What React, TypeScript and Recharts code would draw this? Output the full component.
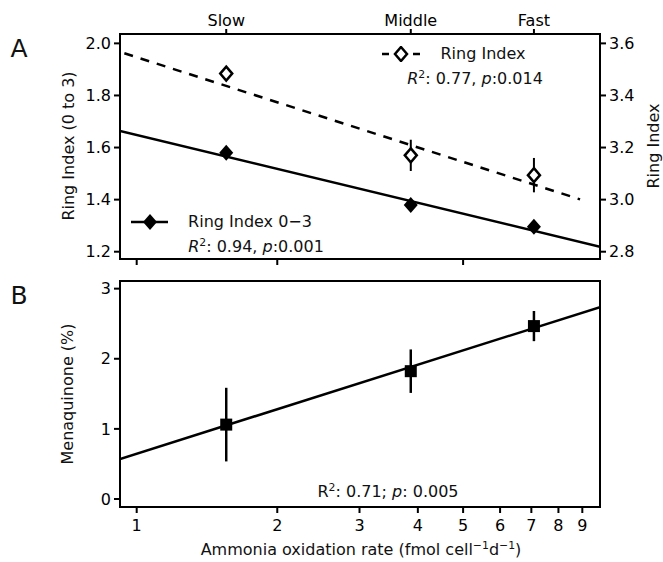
import React from 'react';
import { ComposedChart, Scatter, XAxis, YAxis, ErrorBar } from 'recharts';

const FONT = '"DejaVu Sans", "Liberation Sans", sans-serif';

// ammonia oxidation rate of the three cultures (fmol cell-1 d-1)
const rateX = [1.555, 3.863, 7.09];
const speedLabels = ['Slow', 'Middle', 'Fast'];

// panel A
const ring03 = [1.58, 1.379, 1.296];
const ringIdx = [3.484, 3.17, 3.094];
const ringIdxErr = [0.02, 0.06, 0.066];

// panel B
const mena = [1.061, 1.823, 2.466];
const menaErr = [0.525, 0.31, 0.215];

// regression lines
const fitX = [0.921, 9.82];
const fit03Y = [1.664, 1.219];
const fitRingX = [0.941, 8.9];
const fitRingY = [3.562, 3.001];
const fitMenaY = [0.571, 2.737];

const xTicksA = [1, 2, 5];
const xTicksB = [1, 2, 3, 4, 5, 6, 7, 8, 9];
const leftTicksA = [1.2, 1.4, 1.6, 1.8, 2.0];
const rightTicksA = [2.8, 3.0, 3.2, 3.4, 3.6];
const yTicksB = [0, 1, 2, 3];

const X_DOMAIN = [0.921, 9.82];

const ring03Rows = rateX.map((x, i) => ({ x, y: ring03[i] }));
const ringRows = rateX.map((x, i) => ({ x, y: ringIdx[i], err: ringIdxErr[i] }));
const menaRows = rateX.map((x, i) => ({ x, y: mena[i], err: menaErr[i] }));
const fit03Rows = fitX.map((x, i) => ({ x, y: fit03Y[i] }));
const fitRingRows = fitRingX.map((x, i) => ({ x, y: fitRingY[i] }));
const fitMenaRows = fitX.map((x, i) => ({ x, y: fitMenaY[i] }));

const tickStyle = { fill: '#000', fontSize: 16, fontFamily: FONT };
const lineStyle = { stroke: '#000', strokeWidth: 2, strokeLinecap: 'square' as const };
const tickLineStyle = { stroke: '#000', strokeWidth: 2 };

const noShape = () => <g />;

const FilledDiamond = (p: any) => (
  <path
    d={`M${p.cx},${p.cy - 8} L${p.cx + 7},${p.cy} L${p.cx},${p.cy + 8} L${p.cx - 7},${p.cy} Z`}
    fill="#000"
  />
);

const OpenDiamond = (p: any) => (
  <path
    d={`M${p.cx},${p.cy - 7} L${p.cx + 6},${p.cy} L${p.cx},${p.cy + 7} L${p.cx - 6},${p.cy} Z`}
    fill="#fff"
    stroke="#000"
    strokeWidth={2.5}
  />
);

const Square = (p: any) => <rect x={p.cx - 6} y={p.cy - 6} width={12} height={12} fill="#000" />;

const Note = ({ x, y, size = 16, rotate = false, children }: any) => (
  <div
    style={{
      position: 'absolute',
      left: x,
      top: y,
      transform: `translate(-50%, -50%)${rotate ? ' rotate(-90deg)' : ''}`,
      fontSize: size,
      lineHeight: 1,
      whiteSpace: 'nowrap',
      color: '#111',
    }}
  >
    {children}
  </div>
);

const Sup = ({ children }: any) => (
  <span style={{ fontSize: '0.68em', position: 'relative', top: '-0.55em' }}>{children}</span>
);

const PanelA = () => (
  <ComposedChart width={663} height={275} margin={{ top: 0, right: 0, bottom: 0, left: 0 }}>
    <XAxis
      xAxisId="top"
      orientation="top"
      type="number"
      scale="log"
      dataKey="x"
      domain={X_DOMAIN}
      allowDataOverflow
      ticks={rateX}
      interval={0}
      tickFormatter={(v: number) => speedLabels[rateX.indexOf(v)] ?? ''}
      height={34}
      tickSize={5}
      tickMargin={3}
      tick={tickStyle}
      axisLine={lineStyle}
      tickLine={tickLineStyle}
    />
    <XAxis
      xAxisId="bottom"
      orientation="bottom"
      type="number"
      scale="log"
      dataKey="x"
      domain={X_DOMAIN}
      allowDataOverflow
      ticks={xTicksA}
      interval={0}
      tickFormatter={() => ''}
      height={16}
      tickSize={6}
      tick={tickStyle}
      axisLine={lineStyle}
      tickLine={tickLineStyle}
    />
    <YAxis
      yAxisId="left"
      orientation="left"
      type="number"
      dataKey="y"
      domain={[1.172, 2.036]}
      allowDataOverflow
      ticks={leftTicksA}
      interval={0}
      tickFormatter={(v: number) => v.toFixed(1)}
      width={120}
      tickSize={6}
      tickMargin={3}
      tick={tickStyle}
      axisLine={lineStyle}
      tickLine={tickLineStyle}
    />
    <YAxis
      yAxisId="right"
      orientation="right"
      type="number"
      dataKey="y"
      domain={[2.772, 3.636]}
      allowDataOverflow
      ticks={rightTicksA}
      interval={0}
      tickFormatter={(v: number) => v.toFixed(1)}
      width={63}
      tickSize={6}
      tickMargin={3}
      tick={tickStyle}
      axisLine={lineStyle}
      tickLine={tickLineStyle}
    />
    <Scatter
      xAxisId="bottom"
      yAxisId="left"
      data={fit03Rows}
      line={{ stroke: '#000', strokeWidth: 2.5 }}
      shape={noShape}
      isAnimationActive={false}
    />
    <Scatter
      xAxisId="bottom"
      yAxisId="right"
      data={fitRingRows}
      line={{ stroke: '#000', strokeWidth: 2.5, strokeDasharray: '9 8' }}
      shape={noShape}
      isAnimationActive={false}
    />
    <Scatter
      xAxisId="bottom"
      yAxisId="left"
      data={ring03Rows}
      shape={FilledDiamond}
      isAnimationActive={false}
    />
    <Scatter
      xAxisId="bottom"
      yAxisId="right"
      data={ringRows}
      shape={OpenDiamond}
      isAnimationActive={false}
    >
      <ErrorBar dataKey="err" direction="y" width={0} stroke="#000" strokeWidth={2} isAnimationActive={false} />
    </Scatter>
  </ComposedChart>
);

const PanelB = () => (
  <ComposedChart width={663} height={292} margin={{ top: 0, right: 0, bottom: 0, left: 0 }}>
    <XAxis
      xAxisId="top"
      orientation="top"
      type="number"
      scale="log"
      dataKey="x"
      domain={X_DOMAIN}
      allowDataOverflow
      height={11}
      tick={false}
      tickLine={false}
      axisLine={lineStyle}
    />
    <XAxis
      xAxisId="bottom"
      orientation="bottom"
      type="number"
      scale="log"
      dataKey="x"
      domain={X_DOMAIN}
      allowDataOverflow
      ticks={xTicksB}
      interval={0}
      height={55}
      tickSize={6}
      tickMargin={7}
      tick={tickStyle}
      axisLine={lineStyle}
      tickLine={tickLineStyle}
    />
    <YAxis
      yAxisId="left"
      orientation="left"
      type="number"
      dataKey="y"
      domain={[-0.114, 3.109]}
      allowDataOverflow
      ticks={yTicksB}
      interval={0}
      width={120}
      tickSize={6}
      tickMargin={3}
      tick={tickStyle}
      axisLine={lineStyle}
      tickLine={tickLineStyle}
    />
    <YAxis
      yAxisId="right"
      orientation="right"
      type="number"
      dataKey="y"
      domain={[-0.114, 3.109]}
      allowDataOverflow
      width={63}
      tick={false}
      tickLine={false}
      axisLine={lineStyle}
    />
    <Scatter
      xAxisId="bottom"
      yAxisId="left"
      data={fitMenaRows}
      line={{ stroke: '#000', strokeWidth: 2.5 }}
      shape={noShape}
      isAnimationActive={false}
    />
    <Scatter xAxisId="bottom" yAxisId="left" data={menaRows} shape={Square} isAnimationActive={false}>
      <ErrorBar dataKey="err" direction="y" width={0} stroke="#000" strokeWidth={2.5} isAnimationActive={false} />
    </Scatter>
  </ComposedChart>
);

export default function App() {
  return (
    <div
      style={{
        position: 'absolute',
        left: 0,
        top: 0,
        width: 663,
        height: 562,
        overflow: 'hidden',
        background: '#fff',
        fontFamily: FONT,
      }}
    >
      <div style={{ position: 'absolute', left: 0, top: 0 }}>
        <PanelA />
      </div>
      <div style={{ position: 'absolute', left: 0, top: 270 }}>
        <PanelB />
      </div>

      <Note x={19} y={48} size={25}>A</Note>
      <Note x={19} y={295} size={25}>B</Note>

      {/* legend, upper right */}
      <svg style={{ position: 'absolute', left: 380, top: 46 }} width={42} height={16}>
        <line x1={2} y1={8} x2={9} y2={8} stroke="#000" strokeWidth={2.5} />
        <line x1={33} y1={8} x2={40} y2={8} stroke="#000" strokeWidth={2.5} />
        <path d="M21,1 L27,8 L21,15 L15,8 Z" fill="#fff" stroke="#000" strokeWidth={2.5} />
      </svg>
      <Note x={483} y={54}>Ring Index</Note>
      <Note x={475} y={79}>
        <i>R</i>
        <Sup>2</Sup>: 0.77, <i>p</i>:0.014
      </Note>

      {/* legend, lower left */}
      <svg style={{ position: 'absolute', left: 130, top: 213 }} width={40} height={18}>
        <line x1={1} y1={9} x2={38} y2={9} stroke="#000" strokeWidth={2.5} />
        <path d="M20,1 L27,9 L20,17 L13,9 Z" fill="#000" />
      </svg>
      <Note x={250} y={222}>Ring Index 0−3</Note>
      <Note x={256} y={247}>
        <i>R</i>
        <Sup>2</Sup>: 0.94, <i>p</i>:0.001
      </Note>

      <Note x={388} y={492}>
        R<Sup>2</Sup>: 0.71; <i>p</i>: 0.005
      </Note>

      <Note x={69} y={146} rotate>Ring Index (0 to 3)</Note>
      <Note x={654} y={146} rotate>Ring Index</Note>
      <Note x={68} y={394} rotate>Menaquinone (%)</Note>
      <Note x={361} y={550}>
        Ammonia oxidation rate (fmol cell<Sup>−1</Sup>d<Sup>−1</Sup>)
      </Note>
    </div>
  );
}
